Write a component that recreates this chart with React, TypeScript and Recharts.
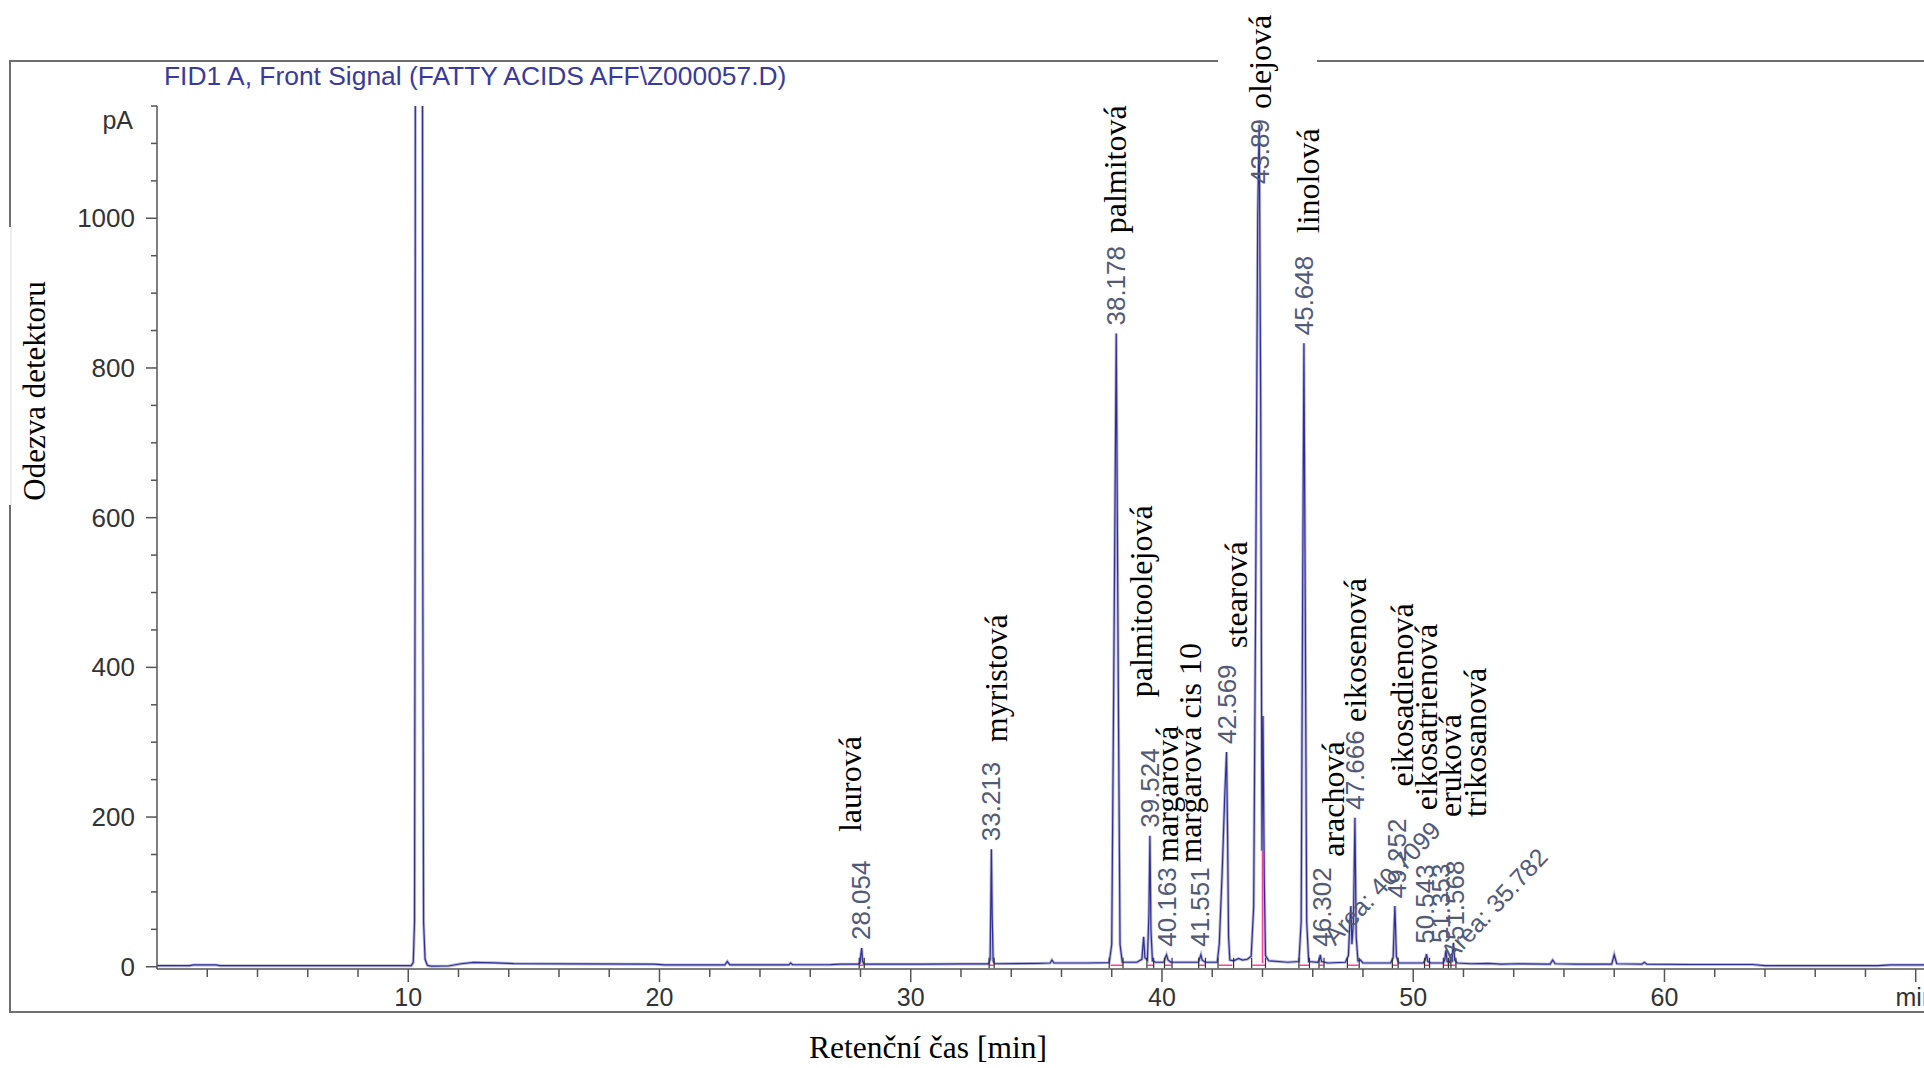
import { LineChart, Line, XAxis, YAxis, ReferenceDot, ReferenceLine } from 'recharts'

// chromatogram trace, [time (min), signal (pA)]
const solventTrace = [
  [0, 1.5], [1.3, 1.5], [1.45, 2.5], [2.35, 2.5], [2.5, 1.5], [10.12, 1.5], [10.2, 6], [10.25, 60],
  [10.275, 600], [10.285, 1400], [10.565, 1400], [10.575, 600], [10.61, 60], [10.67, 10], [10.76, 2],
  [10.9, 0.8], [11.6, 1], [12.1, 4], [12.6, 5.8], [13.4, 5.2], [14.2, 4.3], [17, 3.8], [19.8, 3.5],
  [20.2, 2.5], [22.6, 2.5], [22.7, 7], [22.8, 2.6], [25.15, 2.6], [25.22, 5], [25.3, 2.7], [26.8, 2.8],
  [27.2, 3.5],
]

const fameTrace = [
  [27.9, 3.5], [27.98, 5], [28.02, 18], [28.05, 25], [28.08, 8], [28.14, 3.5],
  [30.5, 3.5], [32.0, 3.8],
  [33.1, 3.8], [33.16, 10], [33.19, 90], [33.21, 157], [33.24, 70], [33.28, 8], [33.34, 4],
  [35.0, 4.5], [35.55, 5], [35.62, 9], [35.7, 5], [37.0, 5],
  [37.9, 5.5], [38.0, 30], [38.08, 380], [38.18, 846], [38.26, 380], [38.33, 30], [38.42, 6],
  [39.0, 6], [39.2, 10], [39.27, 40], [39.32, 12], [39.42, 9], [39.48, 70], [39.52, 175], [39.56, 50],
  [39.62, 8], [39.75, 6],
  [40.08, 6], [40.13, 12], [40.18, 16], [40.24, 9], [40.35, 6],
  [41.0, 6], [41.45, 6], [41.5, 11], [41.55, 16], [41.6, 9], [41.72, 6],
  [42.2, 6], [42.28, 30], [42.4, 130], [42.5, 230], [42.57, 287], [42.61, 180], [42.65, 40], [42.7, 9],
  [42.85, 8], [43.05, 11], [43.2, 9], [43.4, 10], [43.55, 14],
  [43.65, 80], [43.73, 500], [43.81, 1000], [43.87, 1125], [43.93, 750], [43.98, 155], [44.02, 335],
  [44.07, 120], [44.12, 15], [44.25, 8],
  [45.0, 6], [45.45, 7], [45.54, 60], [45.6, 500], [45.65, 833], [45.7, 500], [45.76, 60], [45.84, 7],
  [46.2, 6], [46.26, 9], [46.3, 16], [46.35, 7], [46.6, 5],
  [47.3, 6], [47.42, 15], [47.48, 60], [47.52, 81], [47.56, 30], [47.62, 60], [47.68, 199], [47.73, 40],
  [47.8, 8], [47.9, 9], [48.0, 5],
  [49.1, 5], [49.2, 12], [49.27, 81], [49.33, 14], [49.42, 5],
  [50.4, 5], [50.48, 9], [50.53, 17], [50.58, 7], [50.7, 5],
  [51.2, 5], [51.26, 10], [51.3, 22], [51.35, 7], [51.45, 6], [51.5, 13], [51.54, 8], [51.6, 32],
  [51.65, 9], [51.75, 5],
]

const lateTrace = [
  [52.3, 4], [53.0, 4.5], [53.5, 3.5], [54.2, 4], [55.45, 3.5], [55.55, 9], [55.65, 4], [56.5, 3.5],
  [57.9, 3.5], [58.0, 16], [58.1, 4], [59.1, 3.5], [59.2, 6], [59.3, 3.5], [61, 3], [63.5, 3],
  [64, 1.5], [68.5, 1.5], [69, 2.5], [70.4, 2.5],
]

const signal = [...solventTrace, ...fameTrace, ...lateTrace].map(([t, v]) => ({ t, v }))

// retention time labels
const rtLabels = ['28.054', '33.213', '38.178', '39.524', '40.163', '41.551', '42.569', '43.89', '45.648', '46.302', '47.666', '49.252', '50.543', '51.353', '51.568']
const rtTime = [28.04, 33.21, 38.19, 39.52, 40.19, 41.51, 42.59, 43.89, 45.67, 46.36, 47.68, 49.34, 50.47, 51.1, 51.66]
const rtAt = [25, 157, 846, 175, 16, 16, 287, 1035, 833, 16, 199, 81, 20, 21, 25]

const areaLabels = ['Area: 40.7099', 'Area: 35.782']
const areaTime = [46.89, 51.53]
const areaAt = [27, 5]

// compound names
const acidNames = ['laurová', 'myristová', 'palmitová', 'palmitoolejová', 'margarová', 'margarová cis 10', 'stearová', 'olejová', 'linolová', 'arachová', 'eikosenová', 'eikosadienová', 'eikosatrienová', 'eruková', 'trikosanová']
const nameTime = [27.6, 33.41, 38.14, 39.17, 40.19, 41.12, 42.93, 43.91, 45.81, 46.81, 47.68, 49.54, 50.51, 51.46, 52.46]
const nameAt = [180, 300, 980, 360, 140, 139, 426, 1146, 980, 147, 327, 241, 209, 200, 200]

// integration baselines and event marks
const baseStart = [27.97, 33.13, 37.95, 39.42, 40.1, 41.47, 42.25, 43.6, 45.47, 46.26, 47.4, 49.18, 50.46, 51.22]
const baseEnd = [28.12, 33.3, 38.45, 39.68, 40.38, 41.72, 42.8, 44.1, 45.85, 46.44, 47.83, 49.38, 50.63, 51.68]
const eventMarks = [27.95, 28.15, 33.12, 33.32, 37.9, 38.45, 39.4, 39.67, 40.1, 40.4, 41.46, 41.73, 42.23, 42.85, 43.57, 44.12, 45.45, 45.87, 46.25, 46.45, 47.38, 47.85, 49.17, 49.4, 50.45, 50.65, 51.2, 51.4, 51.5, 51.7]

const xTicks = [2, 4, 6, 8, 10, 12, 14, 16, 18, 20, 22, 24, 26, 28, 30, 32, 34, 36, 38, 40, 42, 44, 46, 48, 50, 52, 54, 56, 58, 60, 62, 64, 66, 68, 70]
const yTicks = [0, 50, 100, 150, 200, 250, 300, 350, 400, 450, 500, 550, 600, 650, 700, 750, 800, 850, 900, 950, 1000, 1050, 1100, 1150]

const W = 1924
const H = 1068
const SANS = '"Liberation Sans", Arial, sans-serif'
const SERIF = '"Liberation Serif", "Times New Roman", serif'
const AXIS = '#555'

const XTick = ({ x, y, payload }: any) => {
  const major = payload.value % 10 === 0
  return (
    <g>
      <line x1={x} y1={y} x2={x} y2={y + (major ? 13 : 8)} stroke={AXIS} strokeWidth={1.5} />
      {major && (
        <text x={x} y={y + 37} textAnchor="middle" fontSize={25} fill="#333" fontFamily={SANS}>
          {payload.value === 70 ? 'min' : payload.value}
        </text>
      )}
    </g>
  )
}

const YTick = ({ x, y, payload }: any) => {
  const major = payload.value % 200 === 0
  return (
    <g>
      <line x1={x - (major ? 11 : 6)} y1={y} x2={x} y2={y} stroke={AXIS} strokeWidth={1.5} />
      {major && (
        <text x={x - 22} y={y} textAnchor="end" dominantBaseline="central" fontSize={26} fill="#333" fontFamily={SANS}>
          {payload.value}
        </text>
      )}
    </g>
  )
}

const vertText = (txt: string, font: string, size: number, fill: string, gap: number) => (p: any) => {
  const y = p.cy - gap
  return (
    <text x={p.cx} y={y} transform={`rotate(-90 ${p.cx} ${y})`} dominantBaseline="central" fontSize={size} fill={fill} fontFamily={font}>
      {txt}
    </text>
  )
}

const slantText = (txt: string) => (p: any) => (
  <text x={p.cx} y={p.cy} transform={`rotate(-47 ${p.cx} ${p.cy})`} fontSize={25} fill="#525a78" fontFamily={SANS}>
    {txt}
  </text>
)

export default function App() {
  return (
    <div style={{ position: 'absolute', left: 0, top: 0, width: W, height: H, overflow: 'hidden', background: '#fff' }}>
      <svg width={W} height={H} style={{ position: 'absolute', left: 0, top: 0 }}>
        <line x1={10} y1={61} x2={10} y2={227} stroke="#6e6e6e" strokeWidth={2} />
        <line x1={11} y1={227} x2={11} y2={505} stroke="#dcdcdc" strokeWidth={1} />
        <line x1={10} y1={505} x2={10} y2={1012} stroke="#6e6e6e" strokeWidth={2} />
        <line x1={9} y1={61} x2={1218} y2={61} stroke="#6e6e6e" strokeWidth={2} />
        <line x1={1317} y1={61} x2={W} y2={61} stroke="#6e6e6e" strokeWidth={2} />
        <line x1={9} y1={1012} x2={W} y2={1012} stroke="#6e6e6e" strokeWidth={2} />
        <text x={164} y={85} fontSize={26.4} fill="#3a3a9e" fontFamily={SANS}>
          FID1 A, Front Signal (FATTY ACIDS AFF\Z000057.D)
        </text>
        <text x={133} y={129} textAnchor="end" fontSize={25} fill="#333" fontFamily={SANS}>pA</text>
        <text transform="translate(34 391) rotate(-90)" textAnchor="middle" dominantBaseline="central" fontSize={31} fill="#000" fontFamily={SERIF}>
          Odezva detektoru
        </text>
        <text x={928} y={1058} textAnchor="middle" fontSize={31.5} fill="#000" fontFamily={SERIF}>
          Retenční čas [min]
        </text>
      </svg>
      <div style={{ position: 'absolute', left: 0, top: 0 }}>
        <LineChart width={W} height={H} data={signal} margin={{ top: 106, right: 0, bottom: 39, left: 0 }}>
          <XAxis
            dataKey="t"
            type="number"
            domain={[0, 70.33]}
            ticks={xTicks}
            interval={0}
            allowDataOverflow
            height={60}
            tickSize={0}
            tickMargin={0}
            tickLine={false}
            axisLine={{ stroke: AXIS, strokeWidth: 1.5 }}
            tick={(p: any) => <XTick {...p} />}
          />
          <YAxis
            type="number"
            domain={[-3, 1150]}
            ticks={yTicks}
            interval={0}
            allowDataOverflow
            width={157}
            tickSize={0}
            tickMargin={0}
            tickLine={false}
            axisLine={{ stroke: AXIS, strokeWidth: 1.5 }}
            tick={(p: any) => <YTick {...p} />}
          />
          <Line dataKey="v" name="overlay" type="linear" stroke="#b9b9d9" strokeWidth={3} dot={false} activeDot={false} isAnimationActive={false} />
          <Line dataKey="v" name="FID1 A" type="linear" stroke="#2e2e96" strokeWidth={1.2} dot={false} activeDot={false} isAnimationActive={false} />
          {baseStart.map((s, i) => (
            <ReferenceLine key={'b' + i} segment={[{ x: s, y: 2 }, { x: baseEnd[i], y: 2 }]} stroke="#ff3c96" strokeWidth={1.5} ifOverflow="visible" />
          ))}
          <ReferenceLine segment={[{ x: 44.0, y: 5 }, { x: 44.0, y: 155 }]} stroke="#ff3c96" strokeWidth={1.5} ifOverflow="visible" />
          {eventMarks.map((m, i) => (
            <ReferenceLine key={'m' + i} segment={[{ x: m, y: -2 }, { x: m, y: 12 }]} stroke="#333" strokeWidth={1.2} ifOverflow="visible" />
          ))}
          {rtLabels.map((txt, i) => (
            <ReferenceDot key={'rt' + i} x={rtTime[i]} y={rtAt[i]} r={0} ifOverflow="visible" shape={vertText(txt, SANS, 26, '#525a78', 8)} />
          ))}
          {areaLabels.map((txt, i) => (
            <ReferenceDot key={'a' + i} x={areaTime[i]} y={areaAt[i]} r={0} ifOverflow="visible" shape={slantText(txt)} />
          ))}
          {acidNames.map((txt, i) => (
            <ReferenceDot key={'n' + i} x={nameTime[i]} y={nameAt[i]} r={0} ifOverflow="visible" shape={vertText(txt, SERIF, 32, '#000', 0)} />
          ))}
        </LineChart>
      </div>
    </div>
  )
}
